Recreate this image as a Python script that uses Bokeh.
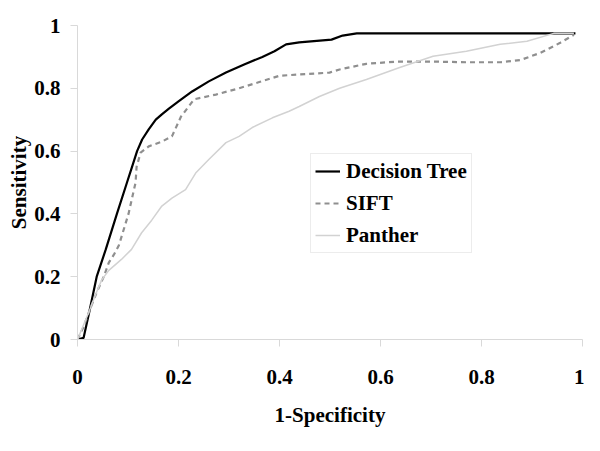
from bokeh.plotting import figure
from bokeh.models import FixedTicker, Legend, LegendItem
from bokeh.embed import file_html
from bokeh.resources import INLINE

# --- data ---
dt_x = [0.0, 0.012, 0.025, 0.038, 0.056, 0.078, 0.098, 0.108, 0.118, 0.128, 0.141, 0.155, 0.167, 0.181, 0.20, 0.227, 0.26, 0.294, 0.33, 0.366, 0.39, 0.413, 0.439, 0.503, 0.525, 0.553, 0.70, 0.85, 0.986]
dt_y = [0.0, 0.005, 0.10, 0.20, 0.287, 0.40, 0.50, 0.55, 0.60, 0.637, 0.669, 0.70, 0.717, 0.735, 0.758, 0.79, 0.822, 0.85, 0.876, 0.90, 0.918, 0.94, 0.946, 0.955, 0.968, 0.975, 0.975, 0.975, 0.975]

sift_x = [0.0, 0.012, 0.022, 0.038, 0.052, 0.062, 0.072, 0.082, 0.101, 0.115, 0.117, 0.125, 0.141, 0.167, 0.187, 0.205, 0.231, 0.274, 0.32, 0.36, 0.40, 0.439, 0.499, 0.519, 0.572, 0.632, 0.704, 0.77, 0.837, 0.877, 0.917, 0.956, 0.983]
sift_y = [0.0, 0.04, 0.085, 0.15, 0.20, 0.245, 0.27, 0.30, 0.40, 0.50, 0.55, 0.595, 0.615, 0.63, 0.647, 0.71, 0.765, 0.78, 0.80, 0.82, 0.84, 0.844, 0.85, 0.86, 0.878, 0.885, 0.885, 0.883, 0.883, 0.89, 0.913, 0.945, 0.97]

panther_x = [0.0, 0.022, 0.035, 0.048, 0.062, 0.087, 0.107, 0.127, 0.147, 0.167, 0.187, 0.214, 0.234, 0.26, 0.294, 0.32, 0.346, 0.386, 0.419, 0.439, 0.479, 0.519, 0.572, 0.638, 0.704, 0.77, 0.837, 0.89, 0.943, 0.983]
panther_y = [0.0, 0.085, 0.14, 0.19, 0.22, 0.255, 0.287, 0.34, 0.38, 0.425, 0.45, 0.477, 0.53, 0.573, 0.627, 0.647, 0.675, 0.706, 0.727, 0.742, 0.774, 0.80, 0.828, 0.866, 0.902, 0.918, 0.94, 0.95, 0.975, 0.975]

ticks = [0, 0.2, 0.4, 0.6, 0.8, 1]
tick_labels = ["0", "0.2", "0.4", "0.6", "0.8", "1"]
series_names = ["Decision Tree", "SIFT", "Panther"]

FONT = "Liberation Serif"
AXIS_GRAY = "#d9d9d9"

p = figure(width=584, height=435, output_backend="svg", toolbar_location=None,
           x_range=(0, 1), y_range=(0, 1),
           min_border_left=77, min_border_right=2, min_border_top=25, min_border_bottom=96)
p.outline_line_color = None
p.xgrid.visible = False
p.ygrid.visible = False

r1 = p.line(dt_x, dt_y, line_color="black", line_width=2.2)
r2 = p.line(sift_x, sift_y, line_color="#8f8f8f", line_width=2.2, line_dash="5 4")
r3 = p.line(panther_x, panther_y, line_color="#d2d2d2", line_width=1.5)

for ax in (p.xaxis[0], p.yaxis[0]):
    ax.ticker = FixedTicker(ticks=ticks)
    ax.major_label_overrides = {t: l for t, l in zip(ticks, tick_labels)}
    ax.axis_line_color = AXIS_GRAY
    ax.major_tick_line_color = AXIS_GRAY
    ax.major_tick_out = 7
    ax.major_tick_in = 0
    ax.minor_tick_line_color = None
    ax.major_label_text_font = FONT
    ax.major_label_text_font_style = "bold"
    ax.major_label_text_font_size = "21px"
    ax.major_label_text_color = "black"
    ax.axis_label_text_font = FONT
    ax.axis_label_text_font_style = "bold"
    ax.axis_label_text_font_size = "21px"
    ax.axis_label_text_color = "black"

p.xaxis.axis_label = "1-Specificity"
p.yaxis.axis_label = "Sensitivity"
p.xaxis.major_label_standoff = 23
p.yaxis.major_label_standoff = 10
p.xaxis.axis_label_standoff = 16
p.yaxis.axis_label_standoff = 0

legend = Legend(items=[LegendItem(label=series_names[0], renderers=[r1]),
                       LegendItem(label=series_names[1], renderers=[r2]),
                       LegendItem(label=series_names[2], renderers=[r3])],
                location=(233, 86))
legend.label_text_font = FONT
legend.label_text_font_style = "bold"
legend.label_text_font_size = "21px"
legend.label_text_color = "black"
legend.glyph_width = 25
legend.glyph_height = 26
legend.label_height = 26
legend.label_standoff = 6
legend.spacing = 6
legend.padding = 4
legend.margin = 0
legend.border_line_color = AXIS_GRAY
legend.border_line_width = 1
legend.background_fill_alpha = 1
p.add_layout(legend, "center")

open("out.html", "w").write(file_html(p, INLINE))
